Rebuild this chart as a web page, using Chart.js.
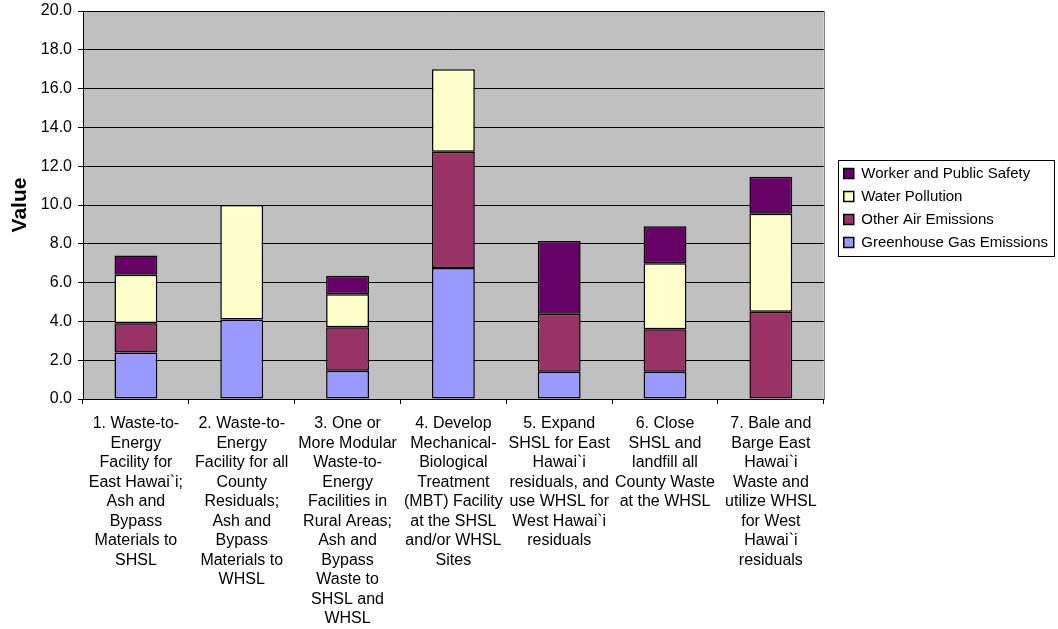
<!DOCTYPE html>
<html>
<head>
<meta charset="utf-8">
<title>Alternatives</title>
<script src="https://cdn.jsdelivr.net/npm/chart.js@4/dist/chart.umd.min.js"></script>
<style>
    html, body { margin: 0; padding: 0; background: #fff; }
    #wrap { width: 1058px; height: 629px; }
</style>
</head>
<body>
<div id="wrap"><canvas id="altChart" width="1058" height="629"></canvas></div>
<script>
// category labels, already broken into lines
const categories = [
    ['1. Waste-to-', 'Energy', 'Facility for', 'East Hawai`i;', 'Ash and', 'Bypass', 'Materials to', 'SHSL'],
    ['2. Waste-to-', 'Energy', 'Facility for all', 'County', 'Residuals;', 'Ash and', 'Bypass', 'Materials to', 'WHSL'],
    ['3. One or', 'More Modular', 'Waste-to-', 'Energy', 'Facilities in', 'Rural Areas;', 'Ash and', 'Bypass', 'Waste to', 'SHSL and', 'WHSL'],
    ['4. Develop', 'Mechanical-', 'Biological', 'Treatment', '(MBT) Facility', 'at the SHSL', 'and/or WHSL', 'Sites'],
    ['5. Expand', 'SHSL for East', 'Hawai`i', 'residuals, and', 'use WHSL for', 'West Hawai`i', 'residuals'],
    ['6. Close', 'SHSL and', 'landfill all', 'County Waste', 'at the WHSL'],
    ['7. Bale and', 'Barge East', 'Hawai`i', 'Waste and', 'utilize WHSL', 'for West', 'Hawai`i', 'residuals']
];

const greenhouseGas = [2.4, 4.1, 1.45, 6.75, 1.4, 1.4, 0];
const otherAir = [1.5, 0, 2.25, 6.0, 3.0, 2.2, 4.5];
const waterPollution = [2.5, 5.9, 1.7, 4.25, 0, 3.4, 5.05];
const workerSafety = [1.0, 0, 0.95, 0, 3.75, 1.9, 1.9];

const yTicks = { min: 0, max: 20, step: 2 };

Chart.defaults.font.family = 'Arial, "Liberation Sans", sans-serif';
Chart.defaults.color = '#000';

// grey plot area with a thin frame, white page behind it
const plotBackground = {
    id: 'plotBackground',
    beforeDraw(chart) {
        const { ctx, chartArea: a } = chart;
        ctx.save();
        ctx.fillStyle = '#fff';
        ctx.fillRect(0, 0, chart.width, chart.height);
        ctx.fillStyle = '#c0c0c0';
        ctx.fillRect(a.left, a.top, a.right - a.left, a.bottom - a.top);
        ctx.strokeStyle = '#808080';
        ctx.lineWidth = 1;
        ctx.strokeRect(Math.round(a.left) + 0.5, Math.round(a.top) + 0.5,
            Math.round(a.right - a.left), Math.round(a.bottom - a.top));
        ctx.restore();
    }
};

// push the legend away from the plot and draw a box around it
const LEGEND_GAP = 12;
const LEGEND_DROP = 3;
const legendFrame = {
    id: 'legendFrame',
    afterUpdate(chart) {
        const lg = chart.legend;
        if (!lg) return;
        lg.left += LEGEND_GAP;
        lg.right += LEGEND_GAP;
        lg.top += LEGEND_DROP;
        lg.bottom += LEGEND_DROP;
        lg.legendHitBoxes.forEach(h => {
            h.left += LEGEND_GAP;
            h.top += LEGEND_DROP;
        });
    },
    afterDraw(chart) {
        const hits = chart.legend && chart.legend.legendHitBoxes;
        if (!hits || !hits.length) return;
        const ctx = chart.ctx;
        let left = Infinity, right = -Infinity, top = Infinity, bottom = -Infinity;
        hits.forEach(h => {
            left = Math.min(left, h.left);
            right = Math.max(right, h.left + h.width);
            top = Math.min(top, h.top);
            bottom = Math.max(bottom, h.top + h.height);
        });
        ctx.save();
        ctx.strokeStyle = '#000';
        ctx.lineWidth = 1;
        ctx.strokeRect(Math.round(left - 6) + 0.5, Math.round(top - 6) + 0.5,
            Math.round(right - left + 12), Math.round(bottom - top + 12));
        ctx.restore();
    }
};

document.addEventListener('DOMContentLoaded', () => {
    const ctx = document.getElementById('altChart').getContext('2d');

    const bar = (label, data, color) => ({
        label: label,
        data: data,
        backgroundColor: color,
        borderColor: '#000',
        borderWidth: 1.5,
        borderSkipped: false,
        barPercentage: 0.405,
        categoryPercentage: 1
    });

    new Chart(ctx, {
        type: 'bar',
        data: {
            labels: categories,
            datasets: [
                bar('Greenhouse Gas Emissions', greenhouseGas, '#9999ff'),
                bar('Other Air Emissions', otherAir, '#993366'),
                bar('Water Pollution', waterPollution, '#ffffcc'),
                bar('Worker and Public Safety', workerSafety, '#660066')
            ]
        },
        options: {
            responsive: false,
            animation: false,
            layout: { padding: { left: 0, top: 11, right: 12, bottom: 0 } },
            plugins: {
                tooltip: { enabled: false },
                legend: {
                    position: 'right',
                    fullSize: false,
                    reverse: true,
                    labels: {
                        boxWidth: 10,
                        boxHeight: 10,
                        padding: 8,
                        font: { size: 15 },
                        color: '#000'
                    }
                }
            },
            scales: {
                x: {
                    stacked: true,
                    grid: {
                        offset: true,
                        drawOnChartArea: false,
                        color: '#000',
                        tickLength: 5
                    },
                    border: { color: '#000' },
                    ticks: {
                        maxRotation: 0,
                        autoSkip: false,
                        padding: 10,
                        font: { size: 16, lineHeight: 1.22 }
                    },
                    afterFit(scale) { scale.height = 230; }
                },
                y: {
                    stacked: true,
                    min: yTicks.min,
                    max: yTicks.max,
                    grid: { color: '#000', tickLength: 5 },
                    border: { color: '#000' },
                    ticks: {
                        stepSize: yTicks.step,
                        padding: 6,
                        font: { size: 16 },
                        callback: v => Number(v).toFixed(1)
                    },
                    title: {
                        display: true,
                        text: 'Value',
                        font: { size: 21, weight: 'bold' },
                        padding: { top: 8, bottom: 0 }
                    },
                    afterFit(scale) {
                        scale.width = 83;
                        scale.paddingTop = 0;
                    }
                }
            }
        },
        plugins: [plotBackground, legendFrame]
    });
});
</script>
</body>
</html>
